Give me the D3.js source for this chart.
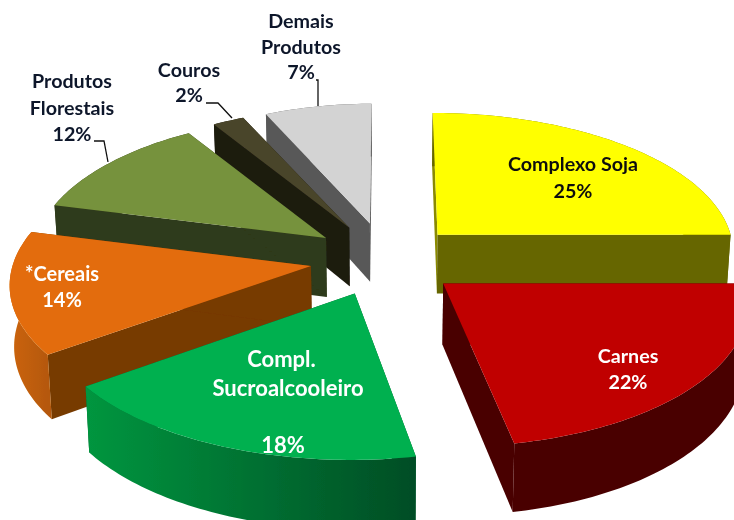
<!DOCTYPE html>
<html>
<head>
<meta charset="utf-8">
<script src="https://cdn.jsdelivr.net/npm/d3@7"></script>
<style>
  html, body { margin: 0; padding: 0; background: #fff; }
  svg { display: block; }
</style>
</head>
<body>
<div id="chart"></div>
<script>
const categories = ["Complexo Soja", "Carnes", "Compl. Sucroalcooleiro", "*Cereais", "Produtos Florestais", "Couros", "Demais Produtos"];
const values = [25, 22, 18, 14, 12, 2, 7];

// text split the way the picture breaks it ("" is the empty line in the green slice)
const labelLines = [["Complexo Soja"], ["Carnes"], ["Compl.", "Sucroalcooleiro", ""], ["*Cereais"], ["Produtos", "Florestais"], ["Couros"], ["Demais", "Produtos"]];

const topColors = ["#ffff00", "#c00000", "#00b050", "#e36c09", "#76923c", "#4a452a", "#d3d3d3"];
const wallColors = ["#666600", "#4a0000", "#005f2c", "#773a05", "#2f3a1a", "#1d1b10", "#595959"];
const rimColors = [["#666600", "#666600"], ["#4a0000", "#4a0000"], ["#00963f", "#004d25"], ["#cc6408", "#b55807"], ["#2f3a1a", "#2f3a1a"], ["#1d1b10", "#1d1b10"], ["#595959", "#595959"]];
const textColors = ["#111", "#fff", "#fff", "#fff", "#10182b", "#10182b", "#10182b"];

// slice layout: pull-out distance, horizontal squeeze and small screen nudge of each slice
const explodes = [72, 78, 80, 75, 74, 76, 78];
const squeeze = [0.995, 0.99, 1, 0.99, 0.98, 0.96, 0.93];
const nudges = [[2.5, 0], [-3, 2], [0, 0], [0, 1.5], [0, 0], [0, 0], [1.5, 0]];

// label anchors and leader lines
const labelPos = [[573, 171], [628, 363], [284, 367], [62, 281], [72, 88], [189, 77], [301, 28]];
const lineGap = [27, 26, 28.5, 26, 26.5, 25, 25.5];
const fontSizes = [19.7, 19.7, 22, 20, 19.7, 19.7, 19.7];
const rowNudge = [[], [], [-2.5, 4, 0, -1], [], [], [], []];
const leaders = [null, null, null, null,
  [[94, 141], [104, 141], [108, 162]],
  [[206, 103], [218, 103], [232, 118]],
  [[316, 80], [318, 80], [318, 106]]];

const width = 734,
      height = 520;
const cx = 385,
      cy = 258,
      radius = 300,
      depth = 60,
      tilt = 0.466,
      persp = 0.000363,
      lowShrink = 0.988;

const svg = d3.select("#chart")
  .append("svg")
  .attr("width", width)
  .attr("height", height);

const defs = svg.append("defs");
defs.append("filter").attr("id", "soft")
  .append("feGaussianBlur").attr("stdDeviation", 0.5);

const root = svg.append("g").attr("filter", "url(#soft)");

const slices = d3.pie().sort(null).startAngle(0).endAngle(2 * Math.PI)(values);
const line = d3.line();

// plane point to the screen, v grows toward the viewer
function project(u, v, down) {
  const s = 1 / (1 - persp * v);
  if (down) return [cx + u * s * lowShrink, cy + tilt * v * s + depth * s];
  return [cx + u * s, cy + tilt * v * s];
}

function planePoint(d, i, r, a) {
  const mid = (d.startAngle + d.endAngle) / 2;
  return [explodes[i] * Math.sin(mid) + squeeze[i] * r * Math.sin(a), -explodes[i] * Math.cos(mid) - r * Math.cos(a)];
}

function arcAngles(d) {
  const n = Math.ceil((d.endAngle - d.startAngle) / 0.02);
  return d3.range(n + 1).map(k => d.startAngle + (d.endAngle - d.startAngle) * k / n);
}

function wall(d, i, a) {
  const p0 = planePoint(d, i, 0, a), p1 = planePoint(d, i, radius, a);
  return [project(p0[0], p0[1]), project(p1[0], p1[1]), project(p1[0], p1[1], true), project(p0[0], p0[1], true)];
}

// back slices first, the front ones cover them
const drawOrder = [6, 5, 4, 0, 3, 2, 1];

drawOrder.forEach(i => {
  const d = slices[i];
  const g = root.append("g")
    .attr("class", "slice")
    .attr("transform", `translate(${nudges[i][0]},${nudges[i][1]})`);
  const outer = arcAngles(d).map(a => planePoint(d, i, radius, a));
  const topEdge = outer.map(p => project(p[0], p[1]));
  const lowEdge = outer.map(p => project(p[0], p[1], true));

  const grad = defs.append("linearGradient")
    .attr("id", `rim${i}`)
    .attr("gradientUnits", "userSpaceOnUse")
    .attr("x1", d3.min(topEdge, p => p[0])).attr("x2", d3.max(topEdge, p => p[0]))
    .attr("y1", 0).attr("y2", 0);
  grad.append("stop").attr("offset", "0%").attr("stop-color", rimColors[i][0]);
  grad.append("stop").attr("offset", "100%").attr("stop-color", rimColors[i][1]);

  // radial walls, then the rim, then the top
  [d.startAngle, d.endAngle].forEach(a => {
    g.append("path")
      .attr("d", line(wall(d, i, a)) + "Z")
      .attr("fill", (i === 0 && a === d.startAngle) ? "#8a8a00" : wallColors[i]);
  });

  g.append("path")
    .attr("d", line(topEdge.concat(lowEdge.slice().reverse())) + "Z")
    .attr("fill", `url(#rim${i})`);

  const apex = planePoint(d, i, 0, d.startAngle);
  g.append("path")
    .attr("d", line([project(apex[0], apex[1])].concat(topEdge)) + "Z")
    .attr("fill", topColors[i]);
});

// leaders
leaders.forEach(pts => {
  if (!pts) return;
  root.append("path")
    .attr("d", line(pts))
    .attr("fill", "none")
    .attr("stroke", "#111")
    .attr("stroke-width", 1.3);
});

// labels
slices.forEach((d, i) => {
  const rows = labelLines[i].concat([`${values[i]}%`]);
  const txt = root.append("text")
    .attr("text-anchor", "middle")
    .attr("font-family", "Lato, 'Noto Sans', sans-serif")
    .attr("font-weight", 700)
    .attr("font-size", `${fontSizes[i]}px`)
    .attr("fill", textColors[i]);
  rows.forEach((r, k) => {
    txt.append("tspan")
      .attr("x", labelPos[i][0] + (rowNudge[i][k] || 0))
      .attr("y", labelPos[i][1] + k * lineGap[i])
      .text(r);
  });
});
</script>
</body>
</html>
